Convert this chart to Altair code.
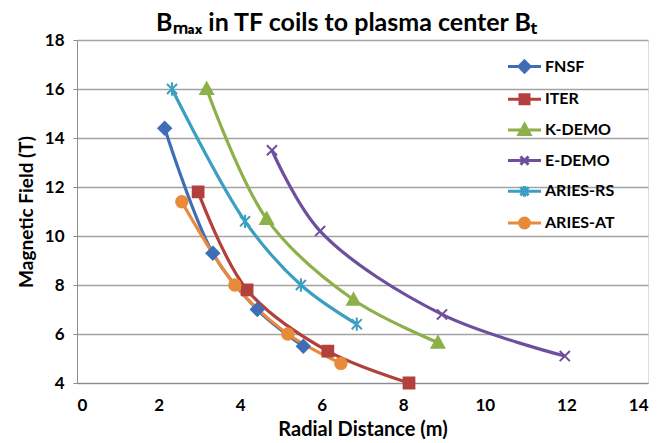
import altair as alt
import pandas as pd

series = ["FNSF", "ITER", "K-DEMO", "E-DEMO", "ARIES-RS", "ARIES-AT"]
colors = ["#3F6EB6", "#B2413D", "#8DB04A", "#6E4F9E", "#3B9FC1", "#E98A3A"]

fnsf_x = [2.15, 3.33, 4.42, 5.55]
fnsf_y = [14.4, 9.3, 7.0, 5.5]
iter_x = [2.97, 4.17, 6.15, 8.14]
iter_y = [11.8, 7.8, 5.3, 4.0]
kdemo_x = [3.18, 4.65, 6.78, 8.85]
kdemo_y = [16.0, 10.7, 7.4, 5.65]
edemo_x = [4.78, 5.96, 8.95, 11.96]
edemo_y = [13.5, 10.2, 6.8, 5.1]
ariesrs_x = [2.33, 4.12, 5.49, 6.86]
ariesrs_y = [16.0, 10.6, 8.0, 6.4]
ariesat_x = [2.57, 3.87, 5.17, 6.47]
ariesat_y = [11.4, 8.0, 6.0, 4.8]

xs = [fnsf_x, iter_x, kdemo_x, edemo_x, ariesrs_x, ariesat_x]
ys = [fnsf_y, iter_y, kdemo_y, edemo_y, ariesrs_y, ariesat_y]

rows = []
for i, name in enumerate(series):
    for xv, yv in zip(xs[i], ys[i]):
        rows.append({"series": name, "x": xv, "y": yv})
df = pd.DataFrame(rows)

# marker shapes (unit box -1..1)
marker_paths = [
    "M0,-1L1,0L0,1L-1,0Z",
    "M-0.85,-0.85L0.85,-0.85L0.85,0.85L-0.85,0.85Z",
    "M0,-1L1,0.8L-1,0.8Z",
    "M-0.8,-0.8L0.8,0.8M-0.8,0.8L0.8,-0.8",
    "M-0.8,-0.8L0.8,0.8M-0.8,0.8L0.8,-0.8M0,-1.05L0,1.05",
    "M-0.9,0A0.9,0.9 0 1,1 0.9,0A0.9,0.9 0 1,1 -0.9,0Z",
]
# legend shapes: line through marker
line_seg = "M-1.1,0H1.1"
legend_paths = [
    line_seg + "M0,-0.37L0.37,0L0,0.37L-0.37,0Z",
    line_seg + "M-0.3,-0.3L0.3,-0.3L0.3,0.3L-0.3,0.3Z",
    line_seg + "M0,-0.37L0.37,0.3L-0.37,0.3Z",
    line_seg + "M-0.27,-0.27L0.27,0.27M-0.27,0.27L0.27,-0.27",
    line_seg + "M-0.27,-0.27L0.27,0.27M-0.27,0.27L0.27,-0.27M0,-0.36L0,0.36",
    line_seg + "M-0.33,0A0.33,0.33 0 1,1 0.33,0A0.33,0.33 0 1,1 -0.33,0Z",
]

FONT = "Lato"
cscale = alt.Scale(domain=series, range=colors)

xenc = alt.X("x:Q", scale=alt.Scale(domain=[0, 14], nice=False),
             axis=alt.Axis(values=[0, 2, 4, 6, 8, 10, 12, 14], grid=False, ticks=False,
                           domainColor="#8c8c8c", labelFont=FONT, labelFontSize=17,
                           labelFontWeight="bold", labelColor="black", labelPadding=14,
                           title="Radial Distance (m)", titleFont=FONT, titleFontSize=20,
                           titleFontWeight="bold", titleColor="black", titlePadding=6))
yenc = alt.Y("y:Q", scale=alt.Scale(domain=[4, 18], nice=False),
             axis=alt.Axis(values=[4, 6, 8, 10, 12, 14, 16, 18], grid=True,
                           gridColor="#a3a3a3", gridWidth=1.5, ticks=True, tickSize=4,
                           tickColor="#8c8c8c", domainColor="#8c8c8c", labelFont=FONT,
                           labelFontSize=17, labelFontWeight="bold", labelColor="black",
                           labelPadding=9, title="Magnetic Field (T)", titleFont=FONT,
                           titleFontSize=19, titleFontWeight="bold", titleColor="black",
                           titlePadding=8))

base = alt.Chart(df)

lines = base.mark_line(interpolate="catmull-rom", strokeWidth=3.2).encode(
    x=xenc, y=yenc,
    color=alt.Color("series:N", scale=cscale, legend=None),
    detail="series:N",
    order="x:Q",
)

points = base.mark_point(filled=True, size=160, strokeWidth=2, opacity=1).encode(
    x="x:Q", y="y:Q",
    color=alt.Color("series:N", scale=cscale, legend=None),
    stroke=alt.Stroke("series:N", scale=cscale, legend=None),
    shape=alt.Shape("series:N", scale=alt.Scale(domain=series, range=marker_paths), legend=None),
)

leg = alt.Legend(title=None, orient="none", legendX=431, legendY=10, padding=0,
                 symbolSize=900, symbolStrokeWidth=3, labelOffset=4, rowPadding=3.7,
                 labelFont=FONT, labelFontSize=16, labelFontWeight="bold", labelColor="black")

legend_layer = base.transform_filter("datum.x > 1000").mark_point(
    filled=True, strokeWidth=3, opacity=1).encode(
    x="x:Q", y="y:Q",
    color=alt.Color("series:N", scale=cscale, legend=leg),
    stroke=alt.Stroke("series:N", scale=cscale, legend=leg),
    shape=alt.Shape("series:N", scale=alt.Scale(domain=series, range=legend_paths), legend=leg),
)

chart = alt.layer(lines, points, legend_layer).resolve_scale(
    color="independent", stroke="independent", shape="independent"
).properties(
    width=571, height=343,
    title=alt.TitleParams("Bₘₐₓ in TF coils to plasma center Bₜ", font=FONT, fontSize=25,
                          fontWeight="bold", color="black", anchor="middle", dx=-16,
                          offset=4, dy=9),
    autosize=alt.AutoSizeParams(type="none"),
    padding={"left": 69, "top": 32, "right": 5, "bottom": 60},
).configure_view(stroke=None).configure(background="white")

chart.save("out.html", embed_options={"renderer": "svg", "actions": False})
